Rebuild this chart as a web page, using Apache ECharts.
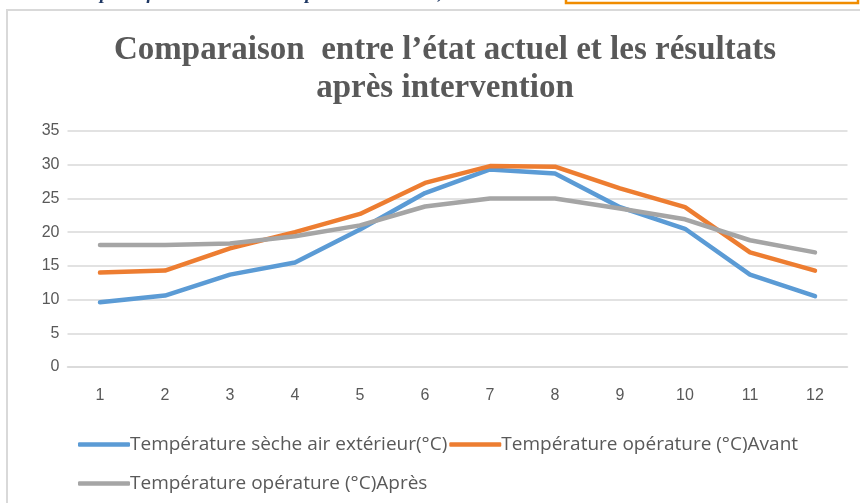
<!DOCTYPE html>
<html>
<head>
<meta charset="utf-8">
<script src="https://cdn.jsdelivr.net/npm/echarts@6/dist/echarts.min.js"></script>
<style>
  html, body { margin: 0; padding: 0; background: #ffffff; }
  #chart { width: 860px; height: 503px; }
</style>
</head>
<body>
<div id="chart"></div>
<script>
// Months of the year
const months = ['1', '2', '3', '4', '5', '6', '7', '8', '9', '10', '11', '12'];

// Series names
const nameExt = 'Température sèche air extérieur(°C)';
const nameAvant = 'Température opérature (°C)Avant';
const nameApres = 'Température opérature (°C)Après';

// Monthly temperatures (°C)
const tempExterieur = [9.6, 10.6, 13.7, 15.5, 20.4, 25.8, 29.3, 28.7, 23.7, 20.5, 13.7, 10.5];
const tempAvant = [14.0, 14.3, 17.6, 20.0, 22.7, 27.3, 29.8, 29.7, 26.5, 23.7, 17.0, 14.3];
const tempApres = [18.1, 18.1, 18.3, 19.4, 21.0, 23.8, 25.0, 25.0, 23.5, 21.9, 18.8, 17.0];

// Y axis range
const yMin = 0, yMax = 35, yStep = 5;

const chart = echarts.init(document.getElementById('chart'), null, { renderer: 'canvas' });

const textGray = '#595959';
const gridGray = '#d9d9d9';
const labelFont = 'Liberation Sans, Arial, sans-serif';
const legendFont = 'Open Sans, Liberation Sans, sans-serif';

function lineSeries(name, data, color) {
  return {
    name: name,
    type: 'line',
    data: data,
    symbol: 'none',
    smooth: false,
    lineStyle: { color: color, width: 4.5, cap: 'round', join: 'round' },
    itemStyle: { color: color },
    emphasis: { disabled: true }
  };
}

chart.setOption({
  animation: false,
  backgroundColor: '#ffffff',
  title: {
    text: 'Comparaison  entre l\u2019état actuel et les résultats\naprès intervention',
    left: 440,
    textAlign: 'center',
    top: 26,
    textStyle: {
      fontFamily: 'Liberation Serif, Times New Roman, serif',
      fontWeight: 'bold',
      fontSize: 33,
      lineHeight: 38,
      color: textGray
    }
  },
  grid: { left: 67.5, right: 12.5, top: 131, bottom: 136, containLabel: false },
  xAxis: {
    type: 'category',
    data: months,
    boundaryGap: true,
    axisTick: { show: false },
    axisLine: { lineStyle: { color: gridGray, width: 1.5 } },
    axisLabel: { color: textGray, fontSize: 16, fontFamily: labelFont, margin: 21 }
  },
  yAxis: {
    type: 'value',
    min: yMin,
    max: yMax,
    interval: yStep,
    axisLine: { show: false },
    axisTick: { show: false },
    splitLine: { lineStyle: { color: gridGray, width: 1.5 } },
    axisLabel: { color: textGray, fontSize: 16, fontFamily: labelFont, margin: 8 }
  },
  legend: [
    {
      data: [nameExt, nameAvant],
      left: 73,
      top: 430,
      icon: 'roundRect',
      itemWidth: 52,
      itemHeight: 4.5,
      itemGap: 2,
      textStyle: { color: textGray, fontSize: 19, fontFamily: legendFont, padding: [0, 0, 0, -5] }
    },
    {
      data: [nameApres],
      left: 73,
      top: 469,
      icon: 'roundRect',
      itemWidth: 52,
      itemHeight: 4.5,
      textStyle: { color: textGray, fontSize: 19, fontFamily: legendFont, padding: [0, 0, 0, -5] }
    }
  ],
  graphic: [
    // chart frame
    {
      type: 'rect',
      shape: { x: 7, y: 10, width: 900, height: 600 },
      style: { fill: 'none', stroke: '#d9d9d9', lineWidth: 2 },
      silent: true
    },
    // caption line above the frame
    {
      type: 'text',
      left: 0,
      top: -15,
      style: {
        text: 'Tableau comparatif de l\u2019état actuel et après intervention,',
        font: 'italic bold 19px Liberation Serif, serif',
        fill: '#1f3864'
      },
      silent: true
    },
    {
      type: 'rect',
      shape: { x: 566, y: -20, width: 292, height: 23 },
      style: { fill: 'none', stroke: '#f08c00', lineWidth: 2.5 },
      silent: true
    }
  ],
  series: [
    lineSeries(nameExt, tempExterieur, '#5b9bd5'),
    lineSeries(nameAvant, tempAvant, '#ed7d31'),
    lineSeries(nameApres, tempApres, '#a5a5a5')
  ]
});
</script>
</body>
</html>
